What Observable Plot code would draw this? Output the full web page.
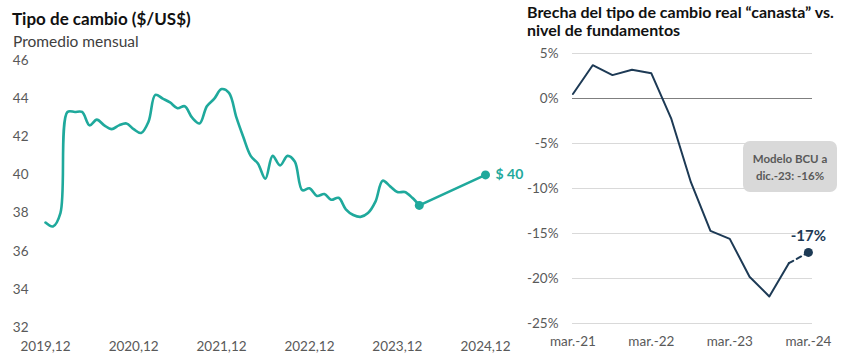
<!DOCTYPE html>
<html><head><meta charset="utf-8">
<script src="https://cdn.jsdelivr.net/npm/d3@7"></script>
<script src="https://cdn.jsdelivr.net/npm/@observablehq/plot@0.6"></script>
<style>
body{margin:0;background:#fff;font-family:Lato, "Open Sans", sans-serif;}
#wrap{position:relative;width:848px;height:359px;overflow:hidden;background:#fff;}
.abs{position:absolute;white-space:nowrap;}
</style></head><body><div id="wrap">
<div class="abs" id="left" style="left:0;top:0"></div>
<div class="abs" id="right" style="left:520px;top:0"></div>
<div class="abs" style="left:12px;top:8px;font-weight:700;font-size:17px;color:#111">Tipo de cambio ($/US$)</div>
<div class="abs" style="left:13px;top:32px;font-size:15.5px;color:#404040">Promedio mensual</div>
<div class="abs" style="left:527px;top:3px;font-weight:700;font-size:16px;line-height:18px;color:#111">Brecha del tipo de cambio real “canasta” vs.<br>nivel de fundamentos</div>
<div class="abs" style="left:743px;top:141px;width:94px;height:51px;background:#d9d9d9;border-radius:7px;display:flex;align-items:center;justify-content:center;text-align:center;font-weight:700;font-size:11.5px;line-height:17px;color:#595959">Modelo BCU a<br>dic.-23: -16%</div>
</div>
<script>
// ---- Left chart: Tipo de cambio, promedio mensual (desde dic-2019) ----
const tcStart = "2019-12";
const tcValues = [
  37.5, 37.3, 38.0, 43.3, 43.3, 43.3, 42.6, 42.9, 42.6, 42.4, 42.6, 42.7,
  42.4, 42.2, 42.8, 44.2, 44.0, 43.8, 43.5, 43.6, 43.0, 42.7, 43.6, 44.0,
  44.5, 44.3, 43.0, 42.0, 41.0, 40.6, 39.8, 41.0, 40.5, 41.0, 40.7, 39.2,
  39.3, 38.9, 39.0, 38.7, 38.8, 38.2, 37.9, 37.8, 38.0, 38.6, 39.7, 39.4,
  39.1, 39.1, 38.8, 38.4
];
const tcProjection = [{month: "2024-03", value: 38.4}, {month: "2024-12", value: 40}];
const tcTickLabels = ["2019,12", "2020,12", "2021,12", "2022,12", "2023,12", "2024,12"];
const tcYTicks = [32, 34, 36, 38, 40, 42, 44, 46];

// ---- Right chart: Brecha TCR canasta vs fundamentos (trimestral) ----
const brechaQuarters = ["2021-03","2021-06","2021-09","2021-12","2022-03","2022-06","2022-09","2022-12","2023-03","2023-06","2023-09","2023-12"];
const brechaValues = [0.5, 3.7, 2.6, 3.2, 2.8, -2.2, -9.3, -14.7, -15.6, -19.8, -22.0, -18.3];
const brechaEstimate = {quarter: "2024-03", value: -17.1, label: "-17%"};
const brechaTickLabels = ["mar.-21", "mar.-22", "mar.-23", "mar.-24"];
const brechaYTicks = [-25, -20, -15, -10, -5, 0, 5];

const parseM = d3.utcParse("%Y-%m");
const start = parseM(tcStart);
const tcData = tcValues.map((v, i) => ({date: d3.utcMonth.offset(start, i), value: v}));
const projData = tcProjection.map(d => ({date: parseM(d.month), value: d.value}));
const tcTicks = tcTickLabels.map(s => parseM(s.replace(",", "-")));
const teal = "#1fa99c";

const left = Plot.plot({
  width: 525, height: 359,
  marginLeft: 45, marginRight: 40, marginTop: 60, marginBottom: 32,
  style: {background: "transparent", fontFamily: "Lato, 'Open Sans', sans-serif", fontSize: "13.5px", color: "#595959"},
  x: {type: "utc", domain: [parseM("2019-12"), parseM("2024-12")], ticks: tcTicks,
      tickFormat: (d, i) => tcTickLabels[tcTicks.findIndex(t => +t === +d)], tickSize: 0, tickPadding: 14, label: null},
  y: {domain: [32, 46], ticks: tcYTicks, tickSize: 0, tickPadding: 17, label: null},
  marks: [
    Plot.line(tcData, {x: "date", y: "value", stroke: teal, strokeWidth: 2.6, curve: "catmull-rom"}),
    Plot.line(projData, {x: "date", y: "value", stroke: teal, strokeWidth: 2.6}),
    Plot.dot(projData, {x: "date", y: "value", r: 4.5, fill: teal}),
    Plot.text(projData.slice(-1), {x: "date", y: "value", text: d => "$ " + d.value, dx: 10, textAnchor: "start",
      fill: teal, fontWeight: 700, fontSize: 14})
  ]
});
document.getElementById("left").appendChild(left);

const brechaData = brechaQuarters.map((q, i) => ({date: parseM(q), value: brechaValues[i]}));
const estData = [{date: parseM(brechaEstimate.quarter), value: brechaEstimate.value, label: brechaEstimate.label}];
const dashData = [brechaData[brechaData.length - 1], estData[0]];
const brTicks = brechaTickLabels.map(s => parseM("20" + s.slice(-2) + "-03"));
const navy = "#1d3a55";

const right = Plot.plot({
  width: 328, height: 359,
  marginLeft: 52, marginRight: 36, marginTop: 53, marginBottom: 36,
  style: {background: "transparent", fontFamily: "Lato, 'Open Sans', sans-serif", fontSize: "13.5px", color: "#595959"},
  x: {type: "utc", domain: [new Date(Date.UTC(2021, 1, 27)), new Date(Date.UTC(2024, 2, 20))], ticks: brTicks,
      tickFormat: d => brechaTickLabels[brTicks.findIndex(t => +t === +d)], tickSize: 0, tickPadding: 13, label: null},
  y: {domain: [-25, 5], ticks: brechaYTicks, tickFormat: d => d + "%", tickSize: 0, tickPadding: 14, label: null},
  marks: [
    Plot.ruleY(brechaYTicks.filter(v => v !== 0), {stroke: "#d9d9d9", strokeWidth: 1}),
    Plot.ruleY([0], {stroke: "#7f7f7f", strokeWidth: 1.2}),
    Plot.line(brechaData, {x: "date", y: "value", stroke: navy, strokeWidth: 2}),
    Plot.line(dashData, {x: "date", y: "value", stroke: navy, strokeWidth: 2, strokeDasharray: "5,4"}),
    Plot.dot(estData, {x: "date", y: "value", r: 4.5, fill: navy}),
    Plot.text(estData, {x: "date", y: "value", text: "label", dy: -16, fill: navy, fontWeight: 700, fontSize: 15})
  ]
});
document.getElementById("right").appendChild(right);
</script>
</body></html>
